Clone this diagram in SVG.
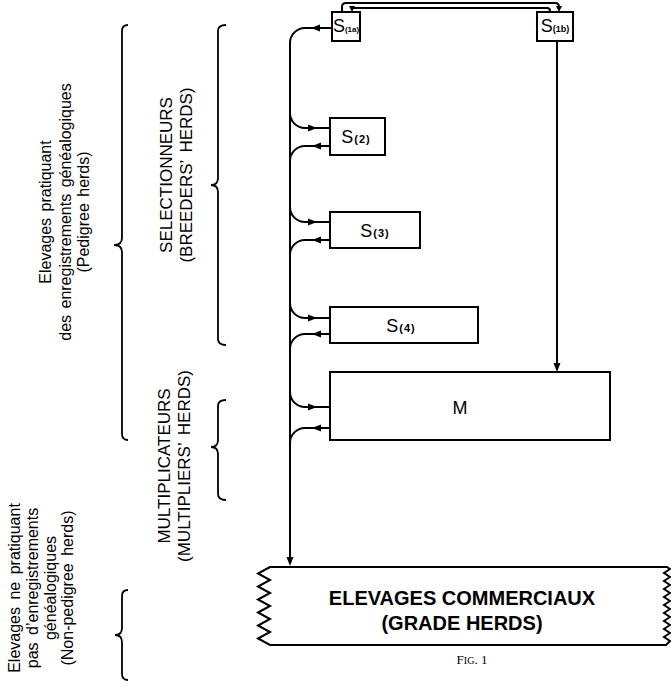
<svg xmlns="http://www.w3.org/2000/svg" width="671" height="687" viewBox="0 0 671 687">
<style>
.box{fill:#fff;stroke:#000;stroke-width:2}
.ln{fill:none;stroke:#000;stroke-width:2}
.br{fill:none;stroke:#000;stroke-width:1.8}
.lbl{font-family:"Liberation Sans",Arial,sans-serif;font-size:16px;fill:#000}
.cap{font-family:"Liberation Sans",Arial,sans-serif;font-size:17px;fill:#000}
.bx{font-family:"Liberation Sans",Arial,sans-serif;font-size:18px;fill:#000;text-anchor:middle}
.sm{font-size:11px;font-weight:bold;letter-spacing:1px}
.big{font-family:"Liberation Sans",Arial,sans-serif;font-size:20px;font-weight:bold;fill:#000;text-anchor:middle}
.fig{font-family:"Liberation Serif","Times New Roman",serif;font-size:13px;fill:#000;text-anchor:middle}
</style>
<defs>
<path id="ah" d="M0,0 L-9,-3.5 L-9,3.5 Z" fill="#000"/>
<path id="ah2" d="M0,0 L-6,-3 L-6,3 Z" fill="#000"/>
</defs>
<g id="labels">
<g transform="translate(0,212) rotate(-90)" class="lbl" text-anchor="middle" word-spacing="2">
<text x="0" y="51">Elevages pratiquant</text>
<text x="0" y="71">des enregistrements généalogiques</text>
<text x="0" y="89">(Pedigree herds)</text>
</g>
<g transform="translate(0,175) rotate(-90)" class="cap" text-anchor="middle" word-spacing="3">
<text x="0" y="172">SELECTIONNEURS</text>
<text x="0" y="192">(BREEDERS’ HERDS)</text>
</g>
<g transform="translate(0,466) rotate(-90)" class="cap" text-anchor="middle" word-spacing="3">
<text x="0" y="170">MULTIPLICATEURS</text>
<text x="0" y="190">(MULTIPLIERS’ HERDS)</text>
</g>
<g transform="translate(0,588) rotate(-90)" class="lbl" text-anchor="middle" word-spacing="3">
<text x="0" y="20">Elevages ne pratiquant</text>
<text x="0" y="38">pas d’enregistrements</text>
<text x="0" y="56">généalogiques</text>
<text x="0" y="73">(Non-pedigree herds)</text>
</g>
</g>
<g id="braces">
<path class="br" d="M128,25 Q122,25 122,31 L122,238 Q122,245 114,245 Q122,245 122,252 L122,434 Q122,440 128,440"/>
<path class="br" d="M226,25 Q218,25 218,31 L218,178 Q218,185 211,185 Q218,185 218,192 L218,339 Q218,345 226,345"/>
<path class="br" d="M226,400 Q218,400 218,406 L218,440 Q218,447 211,447 Q218,447 218,454 L218,494 Q218,500 226,500"/>
<path class="br" d="M128,590 Q122,590 122,596 L122,628 Q122,635 115,635 Q122,635 122,642 L122,674 Q122,680 128,680"/>
</g>
<g id="connectors">
<path class="ln" d="M342,12 L342,7 Q342,3 346,3 L555,3 Q559,3 559,7 L559,8"/>
<use href="#ah2" transform="translate(559,12) rotate(90)"/>
<path class="ln" d="M550,12 L550,11 Q550,8 547,8 L355,8 Q352,8 352,8"/>
<use href="#ah2" transform="translate(352,12) rotate(90)"/>
<path class="ln" d="M332,28 L305,28 A15,15 0 0 0 290,43 L290,558"/>
<use href="#ah" transform="translate(311,28) rotate(180)"/>
<use href="#ah" transform="translate(290,566) rotate(90)"/>
<path class="ln" d="M557,41 L557,365"/>
<use href="#ah" transform="translate(557,372) rotate(90)"/>
<path class="ln" d="M290,113 A15,15 0 0 0 305,128 L330,128"/>
<use href="#ah" transform="translate(317,128)"/>
<path class="ln" d="M330,146 L305,146 A15,15 0 0 0 290,161"/>
<use href="#ah" transform="translate(312,146) rotate(180)"/>
<path class="ln" d="M290,207 A15,15 0 0 0 305,222 L330,222"/>
<use href="#ah" transform="translate(317,222)"/>
<path class="ln" d="M330,240 L305,240 A15,15 0 0 0 290,255"/>
<use href="#ah" transform="translate(312,240) rotate(180)"/>
<path class="ln" d="M290,303 A15,15 0 0 0 305,318 L330,318"/>
<use href="#ah" transform="translate(317,318)"/>
<path class="ln" d="M330,334 L305,334 A15,15 0 0 0 290,349"/>
<use href="#ah" transform="translate(312,334) rotate(180)"/>
<path class="ln" d="M290,392 A15,15 0 0 0 305,407 L330,407"/>
<use href="#ah" transform="translate(317,407)"/>
<path class="ln" d="M330,428 L305,428 A15,15 0 0 0 290,443"/>
<use href="#ah" transform="translate(312,428) rotate(180)"/>
</g>
<g id="S1a"><rect class="box" x="332" y="12" width="28" height="29"/><text class="bx" x="346" y="32" font-size="15">S<tspan font-size="8" font-weight="bold">(1a)</tspan></text></g>
<g id="S1b"><rect class="box" x="537" y="12" width="36" height="29"/><text class="bx" x="555" y="32" font-size="15">S<tspan font-size="9" font-weight="bold">(1b)</tspan></text></g>
<g id="S2"><rect class="box" x="330" y="118" width="55" height="37"/><text class="bx" x="356" y="143">S<tspan class="sm" dx="1">(2)</tspan></text></g>
<g id="S3"><rect class="box" x="330" y="212" width="90" height="36"/><text class="bx" x="375" y="237">S<tspan class="sm" dx="1">(3)</tspan></text></g>
<g id="S4"><rect class="box" x="330" y="307" width="148" height="36"/><text class="bx" x="401" y="332">S<tspan class="sm" dx="1">(4)</tspan></text></g>
<g id="M"><rect class="box" x="330" y="372" width="280" height="68"/><text class="bx" x="460" y="414" font-size="15">M</text></g>
<g id="commercial">
<path class="ln" d="M270,567 L258,573.5 L270,580 L258,586.5 L270,593 L258,599.5 L270,606 L258,612.5 L270,619 L258,625.5 L270,632 L258,638.5 L270,645 L666,645 L670,641 L664,637 L670,633 L664,629 L670,625 L664,621 L670,617 L664,613 L670,609 L664,605 L670,601 L664,597 L670,593 L664,589 L670,585 L664,581 L670,577 L664,573 L670,569 L667,567 Z"/>
<text class="big" x="462" y="605">ELEVAGES COMMERCIAUX</text>
<text class="big" x="462" y="630">(GRADE HERDS)</text>
</g>
<text class="fig" x="472" y="664"><tspan>F</tspan><tspan font-size="10">IG</tspan>. 1</text>
</svg>
